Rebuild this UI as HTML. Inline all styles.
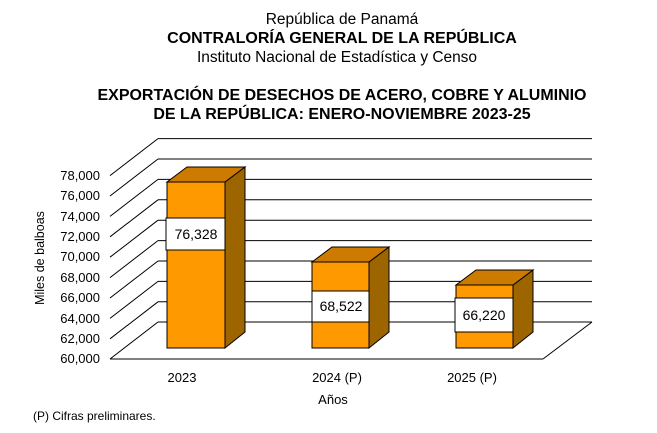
<!DOCTYPE html>
<html><head><meta charset="utf-8"><style>
body{margin:0;background:#fff}
svg{display:block;font-family:"Liberation Sans",Arial,sans-serif}
</style></head><body>
<svg width="657" height="433" viewBox="0 0 657 433" xmlns="http://www.w3.org/2000/svg">
<g text-anchor="middle" fill="#000">
<text x="342" y="24" font-size="15.5">República de Panamá</text>
<text x="342" y="43" font-size="16" font-weight="bold">CONTRALORÍA GENERAL DE LA REPÚBLICA</text>
<text x="337" y="62" font-size="15.5" textLength="280" lengthAdjust="spacing">Instituto  Nacional de Estadística y Censo</text>
<text x="342" y="100" font-size="16" font-weight="bold" textLength="489" lengthAdjust="spacingAndGlyphs">EXPORTACIÓN DE DESECHOS DE ACERO, COBRE Y ALUMINIO</text>
<text x="342" y="119" font-size="16" font-weight="bold">DE LA REPÚBLICA: ENERO-NOVIEMBRE 2023-25</text>
</g>
<g stroke="#000" stroke-width="1" fill="none">
<line x1="158" y1="138.6" x2="592" y2="138.6"/>
<line x1="158" y1="159" x2="592" y2="159"/>
<line x1="158" y1="179.4" x2="592" y2="179.4"/>
<line x1="158" y1="199.8" x2="592" y2="199.8"/>
<line x1="158" y1="220.2" x2="592" y2="220.2"/>
<line x1="158" y1="240.6" x2="592" y2="240.6"/>
<line x1="158" y1="261" x2="592" y2="261"/>
<line x1="158" y1="281.4" x2="592" y2="281.4"/>
<line x1="158" y1="301.8" x2="592" y2="301.8"/>
<line x1="158" y1="322" x2="592" y2="322"/>
<line x1="110" y1="175.6" x2="158" y2="138.6"/>
<line x1="110" y1="196" x2="158" y2="159"/>
<line x1="110" y1="216.4" x2="158" y2="179.4"/>
<line x1="110" y1="236.8" x2="158" y2="199.8"/>
<line x1="110" y1="257.2" x2="158" y2="220.2"/>
<line x1="110" y1="277.6" x2="158" y2="240.6"/>
<line x1="110" y1="298" x2="158" y2="261"/>
<line x1="110" y1="318.4" x2="158" y2="281.4"/>
<line x1="110" y1="338.8" x2="158" y2="301.8"/>
<line x1="110" y1="359" x2="158" y2="322"/>
<line x1="110" y1="359" x2="543" y2="359"/>
<line x1="543" y1="359" x2="592" y2="322"/>
</g>
<g font-size="13" text-anchor="end" fill="#000">
<text x="100" y="180">78,000</text>
<text x="100" y="200">76,000</text>
<text x="100" y="221">74,000</text>
<text x="100" y="241">72,000</text>
<text x="100" y="261">70,000</text>
<text x="100" y="282">68,000</text>
<text x="100" y="302">66,000</text>
<text x="100" y="323">64,000</text>
<text x="100" y="343">62,000</text>
<text x="100" y="363">60,000</text>
</g>
<text transform="translate(44,258) rotate(-90)" font-size="12.5" text-anchor="middle">Miles de balboas</text>
<g stroke="#000" stroke-width="1">
<polygon points="225,182 245,167 245,332 225,348" fill="#9C6500"/>
<polygon points="167,182 187,167 245,167 225,182" fill="#CC7A00"/>
<rect x="167" y="182" width="58" height="166" fill="#FF9900"/>
<rect x="166" y="218" width="59" height="32" fill="#fff"/>
<polygon points="369,262 389,247 389,332 369,348" fill="#9C6500"/>
<polygon points="312,262 332,247 389,247 369,262" fill="#CC7A00"/>
<rect x="312" y="262" width="57" height="86" fill="#FF9900"/>
<rect x="312" y="291" width="57" height="31" fill="#fff"/>
<polygon points="513,285 533,270 533,332 513,348" fill="#9C6500"/>
<polygon points="456,285 476,270 533,270 513,285" fill="#CC7A00"/>
<rect x="456" y="285" width="57" height="63" fill="#FF9900"/>
<rect x="455" y="298" width="58" height="34" fill="#fff"/>
</g>
<g font-size="14" text-anchor="middle">
<text x="196" y="239">76,328</text>
<text x="341" y="311">68,522</text>
<text x="484" y="320">66,220</text>
</g>
<g font-size="13" text-anchor="middle">
<text x="182" y="382">2023</text>
<text x="337" y="382">2024 (P)</text>
<text x="472" y="382">2025 (P)</text>
<text x="333" y="404">Años</text>
</g>
<text x="33" y="420" font-size="12">(P) Cifras  preliminares.</text>
</svg>
</body></html>
